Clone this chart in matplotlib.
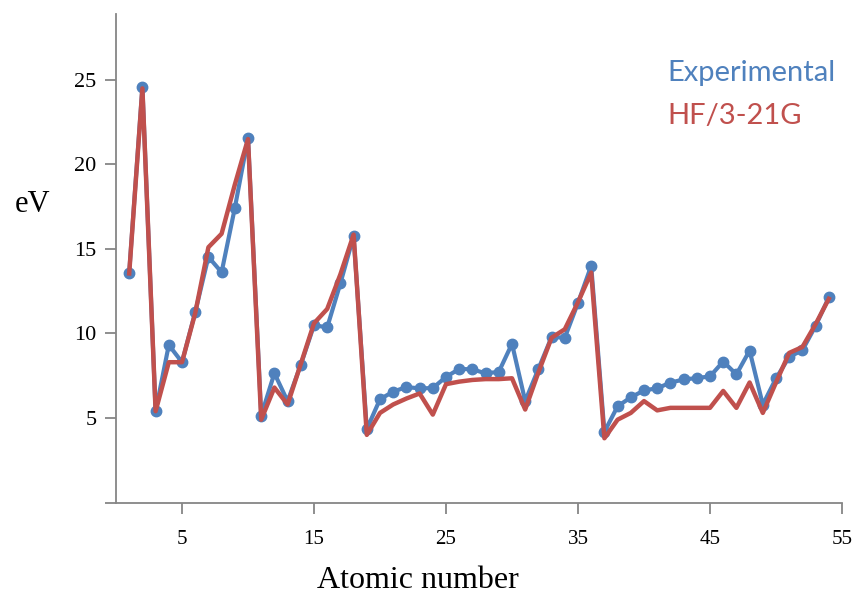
import matplotlib as mpl
mpl.use('Agg')
import matplotlib.pyplot as plt
import numpy as np

# Atomic number vs first ionization energy (eV)
Z = list(range(1, 55))

#Experimental values
IE_exp = [13.60, 24.59, 5.39, 9.32, 8.30, 11.26, 14.53, 13.62, 17.42, 21.56,
          5.14, 7.65, 5.99, 8.15, 10.49, 10.36, 12.97, 15.76, 4.34, 6.11,
          6.56, 6.83, 6.75, 6.77, 7.43, 7.90, 7.88, 7.64, 7.73, 9.39,
          6.00, 7.90, 9.79, 9.75, 11.81, 14.00, 4.18, 5.69, 6.22, 6.63,
          6.76, 7.09, 7.28, 7.36, 7.46, 8.34, 7.58, 8.99, 5.79, 7.34,
          8.61, 9.01, 10.45, 12.13]

#HF/3-21G values
IE_hf = [13.55, 24.5, 5.4, 8.3, 8.3, 11.2, 15.1, 15.9, 18.8, 21.5,
         4.9, 6.8, 5.8, 8.2, 10.6, 11.45, 13.5, 15.85, 4.0, 5.3,
         5.8, 6.15, 6.45, 5.2, 7.0, 7.15, 7.25, 7.3, 7.3, 7.35,
         5.5, 7.7, 9.75, 10.25, 11.85, 13.6, 3.8, 4.9, 5.3, 6.0,
         5.45, 5.6, 5.6, 5.6, 5.6, 6.6, 5.6, 7.1, 5.3, 7.1,
         8.85, 9.2, 10.55, 12.05]

blue = '#4F81BD'
red = '#C0504D'
grey = '#868686'

fig = plt.figure(figsize=(8.53, 5.97), dpi=100)
ax = fig.add_axes([116/853, 94.5/597, 726/853, 488.5/597])

ax.plot(Z, IE_exp, color=blue, lw=3, marker='o', ms=7.5, zorder=2)
ax.plot(Z, IE_hf, color=red, lw=3.2, zorder=3)

ax.set_xlim(0, 55)
ax.set_ylim(0, 28.9)
ax.set_xticks([5, 15, 25, 35, 45, 55])
ax.set_yticks([0, 5, 10, 15, 20, 25])
ax.set_yticklabels(['', '5', '10', '15', '20', '25'])

for s in ['top', 'right']:
    ax.spines[s].set_visible(False)
for s in ['left', 'bottom']:
    ax.spines[s].set_color(grey)
    ax.spines[s].set_linewidth(1.3)
ax.tick_params(axis='both', direction='out', color=grey, width=1.3, length=8,
               labelsize=16, labelcolor='black')
ax.tick_params(axis='x', pad=12, labelsize=15)
ax.tick_params(axis='y', pad=6)
for lab in ax.get_xticklabels() + ax.get_yticklabels():
    lab.set_family('Liberation Serif')

fig.text(418/853, 1 - 580/597, 'Atomic number', family='Liberation Serif',
         fontsize=23, ha='center', va='center')
fig.text(33/853, 1 - 205/597, 'eV', family='Liberation Serif', fontsize=22,
         ha='center', va='center')

fig.text(667/853, 1 - 73/597, 'Experimental', family='Lato', fontsize=21,
         color=blue, ha='left', va='center')
fig.text(667/853, 1 - 116/597, 'HF/3-21G', family='Lato', fontsize=21,
         color=red, ha='left', va='center')

fig.savefig('out.png', dpi=100)
